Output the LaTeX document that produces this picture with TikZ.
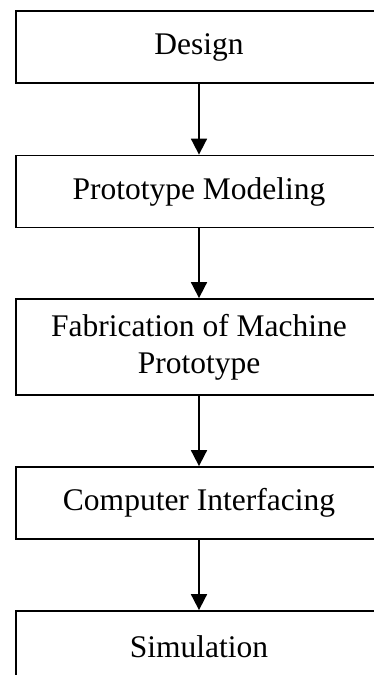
\documentclass[tikz,border=0pt]{standalone}
\usepackage{fontspec}
\setmainfont{Liberation Serif}
\usetikzlibrary{arrows.meta}

\tikzset{
  stage/.style={draw=black, line width=1.8pt, rectangle, inner sep=0pt,
    minimum width=366pt, minimum height=72pt, align=center,
    font=\fontsize{31.5}{37}\selectfont},
  flow/.style={line width=1.8pt, -{Triangle[width=16pt,length=16pt]}}
}

\begin{document}
\begin{tikzpicture}[x=1pt, y=-1pt]
  \useasboundingbox (0,0) rectangle (374,675);
  \clip (0,0) rectangle (374,675);

  % process stages, top to bottom
  \node[stage] (design) at (199,47) {Design};
  \node[stage] (proto)  at (199,191.5) {Prototype Modeling};
  \node[stage, minimum height=96pt] (fab) at (199,347) {Fabrication of Machine\\Prototype};
  \node[stage] (comp)   at (199,503) {Computer Interfacing};
  \node[stage] (sim)    at (199,647) {Simulation};

  % connecting arrows
  \draw[flow] (design) -- (proto);
  \draw[flow] (proto) -- (fab);
  \draw[flow] (fab) -- (comp);
  \draw[flow] (comp) -- (sim);
\end{tikzpicture}
\end{document}
